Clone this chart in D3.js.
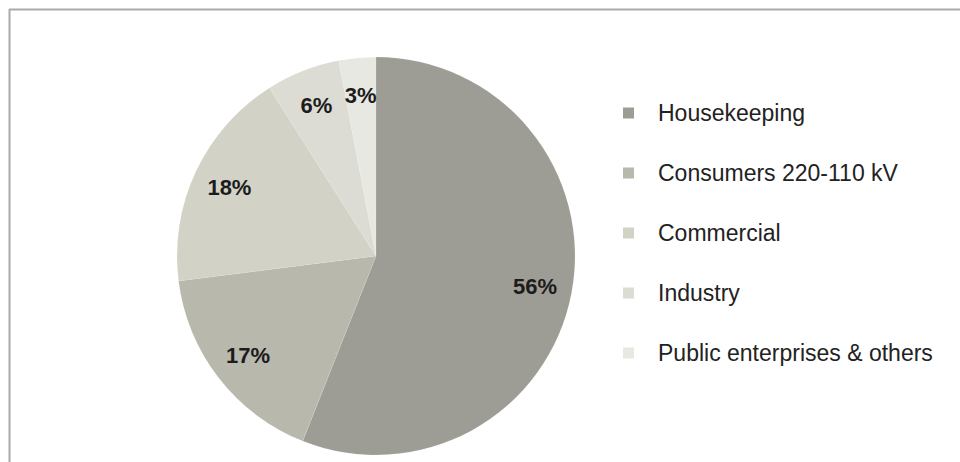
<!DOCTYPE html>
<html>
<head>
<meta charset="utf-8">
<script src="https://cdn.jsdelivr.net/npm/d3@7"></script>
<style>
  html, body { margin: 0; padding: 0; background: #fff; }
  svg { display: block; font-family: "Liberation Sans", Arial, sans-serif; }
</style>
</head>
<body>
<div id="chart"></div>
<script>
const categories = ["Housekeeping", "Consumers 220-110 kV", "Commercial", "Industry", "Public enterprises & others"];
const shares = [56, 17, 18, 6, 3];
const colors = ["#9e9d95", "#b9b8ad", "#d3d2c7", "#dddcd4", "#e8e8e3"];

const width = 960, height = 462;
const cx = 376, cy = 256, radius = 199;

const svg = d3.select('#chart').append('svg')
    .attr('width', width)
    .attr('height', height);

// frame: only top and left edges show in the picture
svg.append('line')
    .attr('x1', 9).attr('y1', 9.5).attr('x2', width).attr('y2', 9.5)
    .style('stroke', '#a9a9a9').style('stroke-width', 2);
svg.append('line')
    .attr('x1', 9.5).attr('y1', 9).attr('x2', 9.5).attr('y2', height)
    .style('stroke', '#a9a9a9').style('stroke-width', 2);

const pie = d3.pie().sort(null).value(d => d);
const arc = d3.arc().innerRadius(0).outerRadius(radius);
const labelArc = d3.arc().innerRadius(162).outerRadius(162);

const g = svg.append('g').attr('transform', 'translate(' + cx + ',' + cy + ')');

const arcs = pie(shares);

g.selectAll('path')
    .data(arcs)
    .enter().append('path')
    .attr('d', arc)
    .style('fill', (d, i) => colors[i])
    .style('stroke', '#ffffff')
    .style('stroke-opacity', 0.15)
    .style('stroke-width', 0.6);

g.selectAll('text.pct')
    .data(arcs)
    .enter().append('text')
    .attr('class', 'pct')
    .attr('transform', d => 'translate(' + labelArc.centroid(d) + ')')
    .attr('text-anchor', 'middle')
    .attr('dy', '0.36em')
    .style('font-size', '22px')
    .style('font-weight', 'bold')
    .style('fill', '#1c1c1c')
    .text(d => d.data + '%');

// legend
const y = d3.scalePoint()
    .domain(categories)
    .range([113, 353]);

const legend = svg.append('g');

legend.selectAll('rect')
    .data(categories)
    .enter().append('rect')
    .attr('x', 623)
    .attr('y', d => y(d) - 5.5)
    .attr('width', 11)
    .attr('height', 11)
    .style('fill', (d, i) => colors[i]);

legend.selectAll('text')
    .data(categories)
    .enter().append('text')
    .attr('x', 658)
    .attr('y', d => y(d))
    .attr('dy', '0.36em')
    .style('font-size', '23px')
    .style('fill', '#222')
    .text(d => d);
</script>
</body>
</html>
